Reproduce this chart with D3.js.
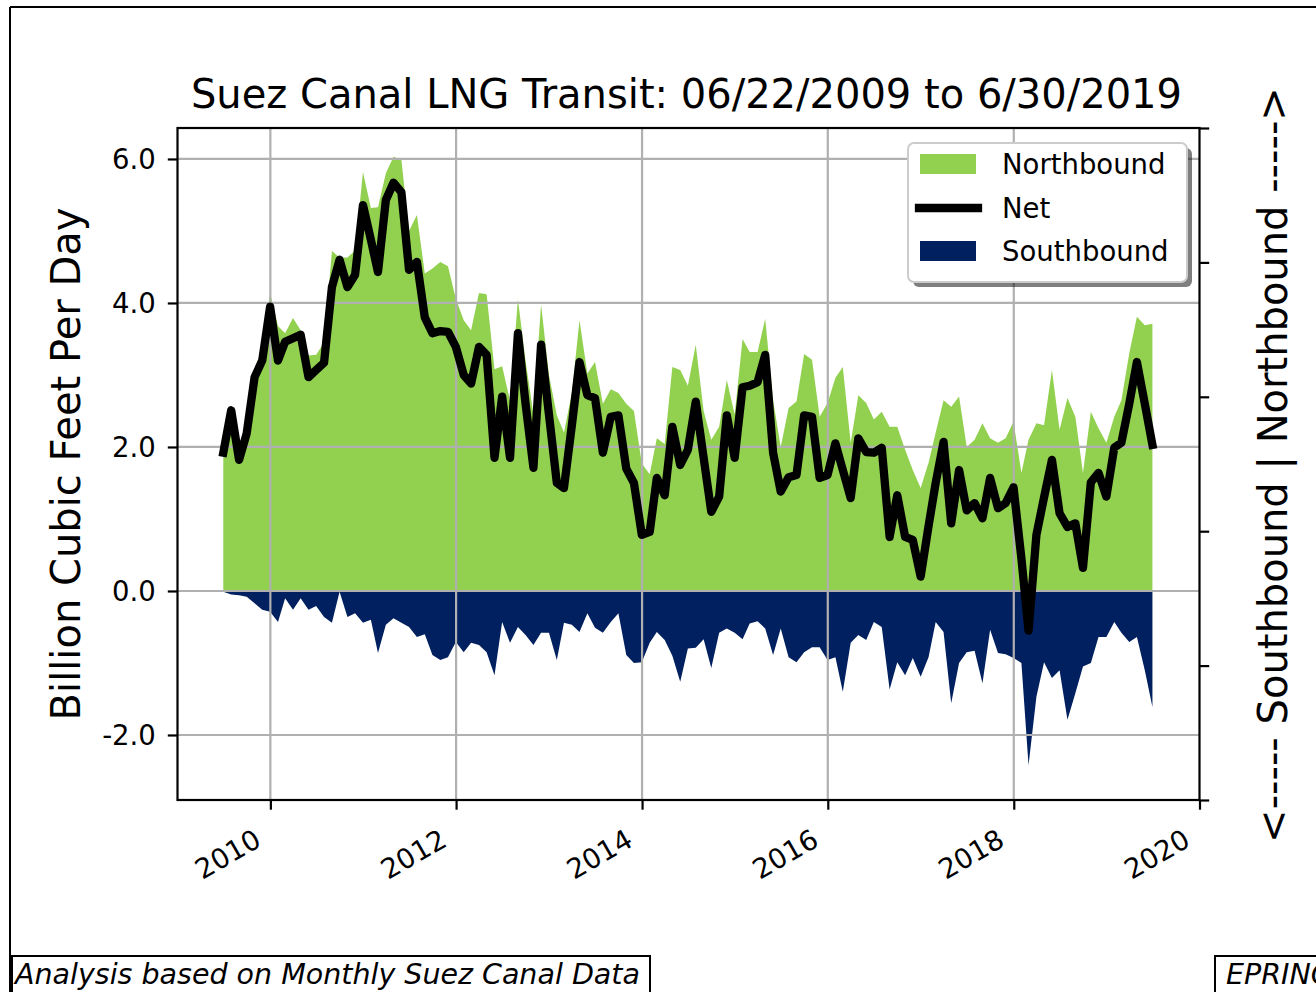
<!DOCTYPE html>
<html>
<head>
<meta charset="utf-8">
<title>Suez Canal LNG Transit</title>
<style>
  body { margin: 0; background: #fff; }
  svg { display: block; font-family: "DejaVu Sans", sans-serif; }
</style>
</head>
<body>
<script src="https://cdn.jsdelivr.net/npm/d3@7"></script>
<script>
// colores
var green = "#92d050";   // northbound
var navy = "#002060";    // southbound

// ejes
var yearTicks = [2010, 2012, 2014, 2016, 2018, 2020];
var valueTicks = [-2, 0, 2, 4, 6];

// meses: fin de mes, junio 2009 .. junio 2019 (121 puntos)
var firstYear = 2009, firstMonth = 5, monthCount = 121;

// Bcf/d
var northbound = [
  1.92, 2.51, 1.88, 2.27, 3.05, 3.40, 4.14, 3.68, 3.58, 3.79,
  3.62, 3.27, 3.28, 3.45, 4.72, 4.63, 4.63, 4.73, 5.82, 5.32,
  5.33, 5.80, 6.03, 5.99, 5.00, 5.22, 4.41, 4.48, 4.57, 4.51,
  4.06, 3.76, 3.62, 4.14, 4.12, 3.08, 3.12, 2.64, 4.05, 3.20,
  2.45, 3.98, 3.00, 2.44, 2.20, 2.75, 3.76, 3.02, 3.18, 2.60,
  2.80, 2.75, 2.60, 2.50, 1.77, 1.62, 2.12, 2.04, 3.11, 3.07,
  2.85, 3.42, 2.50, 2.10, 2.28, 2.93, 2.45, 3.50, 3.32, 3.32,
  3.78, 2.65, 2.00, 2.54, 2.63, 3.29, 3.21, 2.42, 2.61, 2.96,
  3.11, 2.06, 2.72, 2.61, 2.38, 2.49, 2.28, 2.28, 1.96, 1.68,
  1.43, 1.78, 2.20, 2.65, 2.56, 2.70, 2.00, 2.10, 2.33, 2.12,
  2.06, 2.12, 2.35, 1.64, 2.10, 2.33, 2.30, 3.07, 2.24, 2.68,
  2.42, 1.64, 2.49, 2.26, 2.06, 2.42, 2.65, 3.30, 3.81, 3.69,
  3.71
];
var southbound = [
  -0.01, -0.05, -0.06, -0.08, -0.17, -0.26, -0.29, -0.43, -0.10, -0.26,
  -0.10, -0.26, -0.21, -0.36, -0.44, -0.01, -0.36, -0.31, -0.44, -0.40,
  -0.86, -0.47, -0.38, -0.44, -0.50, -0.64, -0.60, -0.89, -0.96, -0.92,
  -0.71, -0.85, -0.72, -0.75, -0.85, -1.17, -0.43, -0.72, -0.50, -0.61,
  -0.75, -0.58, -0.58, -0.96, -0.44, -0.47, -0.57, -0.31, -0.51, -0.58,
  -0.43, -0.31, -0.89, -1.00, -0.99, -0.72, -0.57, -0.68, -0.90, -1.26,
  -0.80, -0.79, -0.67, -1.07, -0.58, -0.52, -0.58, -0.67, -0.45, -0.42,
  -0.52, -0.89, -0.52, -0.92, -0.99, -0.85, -0.78, -0.78, -0.96, -0.92,
  -1.40, -0.72, -0.61, -0.68, -0.43, -0.50, -1.37, -0.99, -1.17, -0.93,
  -1.19, -0.92, -0.43, -0.57, -1.56, -1.00, -0.85, -0.83, -1.28, -0.54,
  -0.86, -0.88, -0.93, -1.00, -2.42, -1.47, -0.99, -1.21, -1.10, -1.79,
  -1.42, -1.05, -1.00, -0.64, -0.64, -0.43, -0.58, -0.71, -0.64, -1.10,
  -1.61
];
var net = [
  1.92, 2.51, 1.82, 2.19, 2.97, 3.20, 3.95, 3.20, 3.46, 3.51,
  3.56, 2.97, 3.07, 3.17, 4.22, 4.60, 4.22, 4.39, 5.36, 4.88,
  4.43, 5.43, 5.67, 5.54, 4.46, 4.57, 3.80, 3.58, 3.61, 3.60,
  3.39, 3.00, 2.88, 3.39, 3.28, 1.85, 2.70, 1.85, 3.58, 2.60,
  1.71, 3.42, 2.45, 1.50, 1.43, 2.30, 3.18, 2.72, 2.68, 1.92,
  2.42, 2.44, 1.70, 1.50, 0.78, 0.82, 1.57, 1.33, 2.28, 1.75,
  1.96, 2.63, 1.85, 1.10, 1.31, 2.44, 1.85, 2.83, 2.85, 2.90,
  3.28, 1.92, 1.38, 1.58, 1.61, 2.44, 2.42, 1.57, 1.61, 2.05,
  1.68, 1.29, 2.12, 1.93, 1.92, 1.99, 0.75, 1.33, 0.75, 0.71,
  0.20, 0.90, 1.50, 2.07, 0.94, 1.68, 1.12, 1.22, 1.01, 1.57,
  1.15, 1.22, 1.44, 0.45, -0.55, 0.78, 1.30, 1.82, 1.08, 0.89,
  0.94, 0.32, 1.51, 1.64, 1.31, 1.99, 2.06, 2.60, 3.18, 2.60,
  2.03
];

var months = d3.range(monthCount).map(function (i) {
  return new Date(firstYear, firstMonth + 1 + i, 0);
});

var W = 1316, H = 992;
var svg = d3.select("body").append("svg").attr("width", W).attr("height", H);

// borde de la figura
svg.append("line").attr("x1", 10).attr("y1", 7).attr("x2", W).attr("y2", 7)
  .attr("stroke", "#000").attr("stroke-width", 2);
svg.append("line").attr("x1", 10).attr("y1", 7).attr("x2", 10).attr("y2", H)
  .attr("stroke", "#000").attr("stroke-width", 2);

// caja de los ejes
var pLeft = 177.5, pRight = 1199.5, pTop = 128, pBottom = 800;

var x = d3.scaleTime()
  .domain([new Date(2009, 0, 1), new Date(2020, 0, 1)])
  .range([pLeft, pRight]);
var y = d3.scaleLinear().domain([-2.903, 6.43]).range([pBottom, pTop]);

// areas
var area = d3.area().x(function (d, i) { return x(months[i]); })
  .y0(y(0)).y1(function (d) { return y(d); });
svg.append("path").datum(northbound).attr("d", area).attr("fill", green);
svg.append("path").datum(southbound).attr("d", area).attr("fill", navy);

// grid
var grid = svg.append("g").attr("stroke", "#b0b0b0").attr("stroke-width", 2.2);
yearTicks.forEach(function (yr) {
  var gxPos = x(new Date(yr, 0, 1));
  if (gxPos <= pRight - 2) grid.append("line").attr("x1", gxPos).attr("x2", gxPos).attr("y1", pTop).attr("y2", pBottom);
});
valueTicks.forEach(function (v) {
  grid.append("line").attr("x1", pLeft).attr("x2", pRight).attr("y1", y(v)).attr("y2", y(v));
});

// net
var line = d3.line().x(function (d, i) { return x(months[i]); }).y(function (d) { return y(d); });
svg.append("path").datum(net).attr("d", line)
  .attr("fill", "none").attr("stroke", "#000").attr("stroke-width", 8.3)
  .attr("stroke-linejoin", "round").attr("stroke-linecap", "square");

// ejes
var fs = 27.5;
var gx = svg.append("g").attr("transform", "translate(0," + pBottom + ")")
  .call(d3.axisBottom(x)
    .tickValues(yearTicks.map(function (yr) { return new Date(yr, 0, 1); }))
    .tickFormat(d3.timeFormat("%Y")).tickSize(9.7).tickSizeOuter(0));
gx.selectAll("text").attr("x", 0).attr("y", 0).attr("dy", 0)
  .attr("transform", "translate(-8,45) rotate(-30)").style("text-anchor", "end");

var fmt1 = d3.format(".1f");
var gy = svg.append("g").attr("transform", "translate(" + pLeft + ",0)")
  .call(d3.axisLeft(y).tickValues(valueTicks)
    .tickFormat(function (d) { return fmt1(d).replace("\u2212", "-"); })
    .tickSize(9.7).tickPadding(12).tickSizeOuter(0));
gy.selectAll("text").attr("dy", "0.36em");

var yRight = d3.scaleLinear().domain([0, 1]).range([pBottom, pTop]);
var gr = svg.append("g").attr("transform", "translate(" + pRight + ",0)")
  .call(d3.axisRight(yRight).ticks(5).tickFormat("").tickSize(9.7).tickSizeOuter(0));

[gx, gy, gr].forEach(function (g) {
  g.selectAll("text").attr("font-size", fs).attr("font-family", "DejaVu Sans").attr("fill", "#000");
  g.selectAll("line").attr("stroke-width", 2.2);
  g.select(".domain").remove();
});

svg.append("rect").attr("x", pLeft).attr("y", pTop)
  .attr("width", pRight - pLeft).attr("height", pBottom - pTop)
  .attr("fill", "none").attr("stroke", "#000").attr("stroke-width", 2.2);

// textos
svg.append("text").attr("x", (pLeft + pRight) / 2 - 2).attr("y", 108)
  .attr("text-anchor", "middle").attr("font-size", 40)
  .text("Suez Canal LNG Transit: 06/22/2009 to 6/30/2019");

svg.append("text").attr("transform", "translate(80," + (pTop + pBottom) / 2 + ") rotate(-90)")
  .attr("text-anchor", "middle").attr("font-size", 40)
  .text("Billion Cubic Feet Per Day");

svg.append("text").attr("transform", "translate(1287," + 465 + ") rotate(-90)")
  .attr("text-anchor", "middle").attr("font-size", 40)
  .text("<----- Southbound | Northbound ----->");

// leyenda
var lg = svg.append("g").attr("transform", "translate(908,143)");
lg.append("rect").attr("x", 5).attr("y", 5).attr("width", 279).attr("height", 139)
  .attr("rx", 6).attr("fill", "#000").attr("opacity", 0.5);
lg.append("rect").attr("width", 279).attr("height", 139).attr("rx", 6)
  .attr("fill", "#fff").attr("stroke", "#cccccc").attr("stroke-width", 2);
var items = [
  { name: "Northbound", kind: "patch", color: green },
  { name: "Net", kind: "line", color: "#000" },
  { name: "Southbound", kind: "patch", color: navy }
];
items.forEach(function (it, i) {
  var cy = 21 + i * 43.5;
  if (it.kind === "patch") {
    lg.append("rect").attr("x", 12).attr("y", cy - 10).attr("width", 56).attr("height", 20).attr("fill", it.color);
  } else {
    lg.append("line").attr("x1", 11).attr("x2", 70).attr("y1", cy + 0.5).attr("y2", cy + 0.5)
      .attr("stroke", it.color).attr("stroke-width", 8.3).attr("stroke-linecap", "square");
  }
  lg.append("text").attr("x", 94).attr("y", cy + 10).attr("font-size", fs).text(it.name);
});

// notas al pie
svg.append("rect").attr("x", 12).attr("y", 956).attr("width", 638).attr("height", 60)
  .attr("fill", "#fff").attr("stroke", "#000").attr("stroke-width", 2);
svg.append("text").attr("x", 15).attr("y", 984).attr("font-size", 28.5)
  .attr("font-style", "italic").text("Analysis based on Monthly Suez Canal Data");
svg.append("rect").attr("x", 1215).attr("y", 956).attr("width", 200).attr("height", 60)
  .attr("fill", "#fff").attr("stroke", "#000").attr("stroke-width", 2);
svg.append("text").attr("x", 1226).attr("y", 984).attr("font-size", 28.5)
  .attr("font-style", "italic").text("EPRINC");
</script>
</body>
</html>
